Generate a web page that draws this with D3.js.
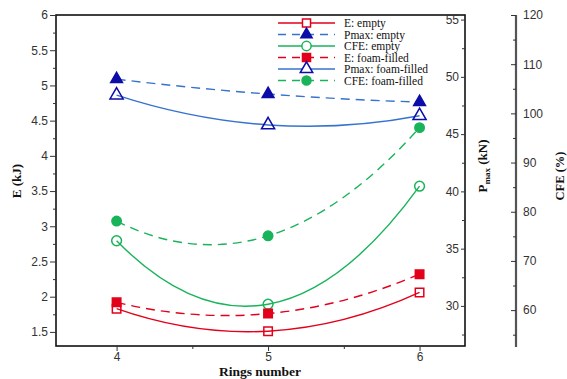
<!DOCTYPE html>
<html><head><meta charset="utf-8">
<script src="https://cdn.jsdelivr.net/npm/d3@7"></script>
<style>body{margin:0;background:#fff}</style>
</head><body>
<svg id="c" width="567" height="379"></svg>
<script>
// ---- data ----
const rings = [4, 5, 6];
const eEmpty = [1.83, 1.51, 2.06];
const eFoam = [1.92, 1.76, 2.32];
const pmaxEmpty = [49.8, 48.5, 47.8];
const pmaxFoam = [48.4, 45.8, 46.6];
const cfeEmpty = [74.1, 61.2, 85.2];
const cfeFoam = [78.1, 75.1, 97.1];
const eTicks = [1.5, 2, 2.5, 3, 3.5, 4, 4.5, 5, 5.5, 6];
const pTicks = [30, 35, 40, 45, 50, 55];
const cTicks = [60, 70, 80, 90, 100, 110, 120];
const legendLabels = ["E: empty", "Pmax: empty", "CFE: empty", "E: foam-filled", "Pmax: foam-filled", "CFE: foam-filled"];

const svg = d3.select("#c");
const L = 56, R = 465, T = 15, B = 346;
const x = d3.scaleLinear().domain([3.6, 6.3]).range([L, R]);
const yE = d3.scaleLinear().domain([1.3, 6]).range([B, T]);
const yP = d3.scaleLinear().domain([26.5, 55.4]).range([B, T]);
const yC = d3.scaleLinear().domain([52.5, 120]).range([347, T]);

const RED = "#e3001b", GREEN = "#19b35a", BLUE = "#3673cf", NAVY = "#0c0ca8";
const tickFont = "Liberation Sans, Arial, sans-serif";
const serif = "Liberation Serif, Times New Roman, serif";

// parabola through 3 points, drawn as exact quadratic Beziers
function curveParabola(context) {
  let pts = [];
  return {
    areaStart() {}, areaEnd() {},
    lineStart() { pts = []; },
    point(px, py) { pts.push([+px, +py]); },
    lineEnd() {
      if (pts.length !== 3) { pts.forEach((p, i) => i ? context.lineTo(p[0], p[1]) : context.moveTo(p[0], p[1])); return; }
      const [[x0, y0], [x1, y1], [x2, y2]] = pts;
      const d = X => y0 * (2 * X - x1 - x2) / ((x0 - x1) * (x0 - x2)) +
                     y1 * (2 * X - x0 - x2) / ((x1 - x0) * (x1 - x2)) +
                     y2 * (2 * X - x0 - x1) / ((x2 - x0) * (x2 - x1));
      context.moveTo(x0, y0);
      for (let i = 0; i < 2; i++) {
        const a = pts[i], b = pts[i + 1];
        const cx = (a[0] + b[0]) / 2, cy = a[1] + d(a[0]) * (b[0] - a[0]) / 2;
        context.quadraticCurveTo(cx, cy, b[0], b[1]);
      }
    }
  };
}

// frame
svg.append("rect").attr("x", L).attr("y", T).attr("width", R - L).attr("height", B - T)
  .attr("fill", "none").attr("stroke", "#111").attr("stroke-width", 1.6);

function styleAxis(g) {
  g.selectAll("text").attr("font-family", tickFont).attr("font-size", 12).attr("fill", "#333");
  g.selectAll("line").attr("stroke", "#333");
  g.select(".domain").remove();
}

// left E axis
const eMinor = d3.range(1.5, 6.01, 0.25).filter(v => !eTicks.includes(v));
svg.append("g").attr("transform", `translate(${L},0)`)
  .call(d3.axisLeft(yE).tickValues(eTicks).tickFormat(d3.format("")).tickSize(6).tickPadding(2)).call(styleAxis);
svg.append("g").attr("transform", `translate(${L},0)`)
  .call(d3.axisLeft(yE).tickValues(eMinor).tickFormat("").tickSize(3)).call(styleAxis);

// bottom x axis
svg.append("g").attr("transform", `translate(0,${B})`)
  .call(d3.axisBottom(x).tickValues(rings).tickFormat(d3.format("d")).tickSize(5).tickPadding(1)).call(styleAxis);
svg.append("g").attr("transform", `translate(0,${B})`)
  .call(d3.axisBottom(x).tickValues([4.5, 5.5]).tickFormat("").tickSize(3)).call(styleAxis);

// Pmax axis (right side of frame, ticks & labels inside)
const pMinor = [27.5, 32.5, 37.5, 42.5, 47.5, 52.5];
svg.append("g").attr("transform", `translate(${R},0)`)
  .call(d3.axisLeft(yP).tickValues(pTicks).tickSize(4).tickPadding(2)).call(styleAxis);
svg.append("g").attr("transform", `translate(${R},0)`)
  .call(d3.axisLeft(yP).tickValues(pMinor).tickFormat("").tickSize(3)).call(styleAxis);

// CFE axis
const cMinor = [55, 65, 75, 85, 95, 105, 115];
svg.append("line").attr("x1", 516).attr("x2", 516).attr("y1", T).attr("y2", 347)
  .attr("stroke", "#555").attr("stroke-width", 2.2);
svg.append("g").attr("transform", `translate(516,0)`)
  .call(d3.axisRight(yC).tickValues(cTicks).tickSizeInner(-5).tickSizeOuter(0).tickPadding(7)).call(styleAxis);
svg.append("g").attr("transform", `translate(516,0)`)
  .call(d3.axisRight(yC).tickValues(cMinor).tickFormat("").tickSizeInner(-3).tickSizeOuter(0)).call(styleAxis);

// axis titles
svg.append("text").attr("transform", "translate(21,181) rotate(-90)").attr("text-anchor", "middle")
  .attr("font-family", serif).attr("font-weight", "bold").attr("font-size", 13).attr("fill", "#111").text("E (kJ)");
svg.append("text").attr("x", 260).attr("y", 376).attr("text-anchor", "middle")
  .attr("font-family", serif).attr("font-weight", "bold").attr("font-size", 13.5).attr("fill", "#111").text("Rings number");
const pt = svg.append("text").attr("transform", "translate(487,166) rotate(-90)").attr("text-anchor", "middle")
  .attr("font-family", serif).attr("font-weight", "bold").attr("font-size", 13).attr("fill", "#111");
pt.append("tspan").text("P");
pt.append("tspan").attr("font-size", 9).attr("dy", 3).text("max");
pt.append("tspan").attr("dy", -3).text(" (kN)");
svg.append("text").attr("transform", "translate(564,176) rotate(-90)").attr("text-anchor", "middle")
  .attr("font-family", serif).attr("font-weight", "bold").attr("font-size", 12.5).attr("fill", "#111").text("CFE (%)");

// series definitions
const series = [
  { vals: eEmpty, y: yE, color: RED, dash: null, sym: d3.symbolSquare, size: 72, fill: "none", mstroke: RED },
  { vals: pmaxEmpty, y: yP, color: BLUE, dash: "9,6", sym: d3.symbolTriangle, size: 60, fill: NAVY, mstroke: NAVY },
  { vals: cfeEmpty, y: yC, color: GREEN, dash: null, sym: d3.symbolCircle, size: 75, fill: "none", mstroke: GREEN },
  { vals: eFoam, y: yE, color: RED, dash: "9,6", sym: d3.symbolSquare, size: 72, fill: RED, mstroke: RED },
  { vals: pmaxFoam, y: yP, color: BLUE, dash: null, sym: d3.symbolTriangle, size: 75, fill: "none", mstroke: NAVY },
  { vals: cfeFoam, y: yC, color: GREEN, dash: "9,6", sym: d3.symbolCircle, size: 70, fill: GREEN, mstroke: GREEN },
];

series.forEach(s => {
  const line = d3.line().x((d, i) => x(rings[i])).y(d => s.y(d)).curve(curveParabola);
  svg.append("path").datum(s.vals).attr("d", line).attr("fill", "none")
    .attr("stroke", s.color).attr("stroke-width", 1.4).attr("stroke-dasharray", s.dash);
});
series.forEach(s => {
  svg.append("g").selectAll("path").data(s.vals).join("path")
    .attr("transform", (d, i) => `translate(${x(rings[i])},${s.y(d)})`)
    .attr("d", d3.symbol().type(s.sym).size(s.size))
    .attr("fill", s.fill).attr("stroke", s.mstroke).attr("stroke-width", 1.5);
});

// legend
const lg = svg.append("g");
series.forEach((s, i) => {
  const yy = 23 + i * 11.5;
  lg.append("line").attr("x1", 278).attr("x2", 335).attr("y1", yy).attr("y2", yy)
    .attr("stroke", s.color).attr("stroke-width", 1.4).attr("stroke-dasharray", s.dash ? "8,6" : null);
  lg.append("path").attr("transform", `translate(306.5,${yy})`)
    .attr("d", d3.symbol().type(s.sym).size(s.size * 0.9))
    .attr("fill", s.fill === "none" ? "#fff" : s.fill).attr("stroke", s.mstroke).attr("stroke-width", 1.5);
  lg.append("text").attr("x", 344).attr("y", yy + 4).attr("font-family", serif)
    .attr("font-size", 11.5).attr("fill", "#111").text(legendLabels[i]);
});
</script>
</body></html>
